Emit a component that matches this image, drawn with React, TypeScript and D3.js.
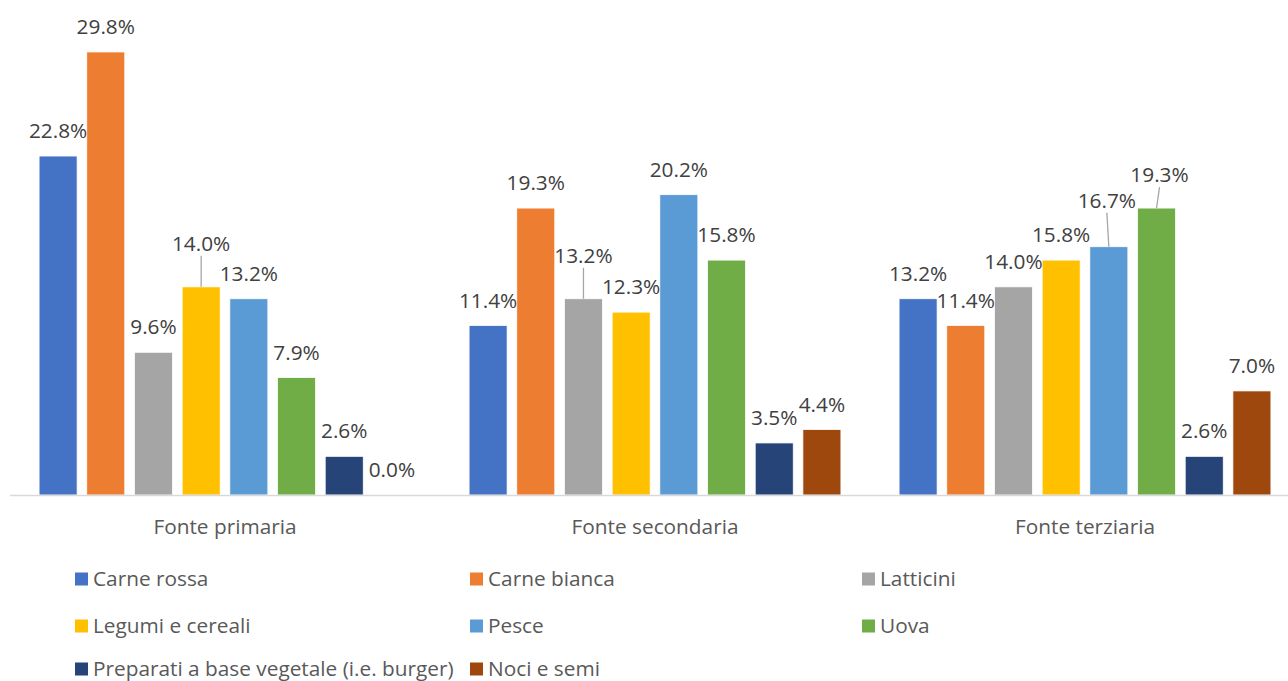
import React from "react";
import * as d3 from "d3";

const categories = ["Fonte primaria", "Fonte secondaria", "Fonte terziaria"];
const seriesNames = [
  "Carne rossa",
  "Carne bianca",
  "Latticini",
  "Legumi e cereali",
  "Pesce",
  "Uova",
  "Preparati a base vegetale (i.e. burger)",
  "Noci e semi",
];
const carneRossa = [22.8, 11.4, 13.2];
const carneBianca = [29.8, 19.3, 11.4];
const latticini = [9.6, 13.2, 14.0];
const legumiCereali = [14.0, 12.3, 15.8];
const pesce = [13.2, 20.2, 16.7];
const uova = [7.9, 15.8, 19.3];
const preparati = [2.6, 3.5, 2.6];
const nociSemi = [0.0, 4.4, 7.0];

const seriesValues = [carneRossa, carneBianca, latticini, legumiCereali, pesce, uova, preparati, nociSemi];
const colors = ["#4472C4", "#ED7D31", "#A5A5A5", "#FFC000", "#5B9BD5", "#70AD47", "#264478", "#9E480E"];

// labels lifted with leader lines: key "seriesIndex-categoryIndex" -> extra lift (px), x shift
const leaderLabels: Record<string, { lift: number; dx: number }> = {
  "3-0": { lift: 18, dx: 0 },
  "2-1": { lift: 18, dx: 0 },
  "4-2": { lift: 21, dx: -2 },
  "5-2": { lift: 8, dx: 3 },
};

const W = 1288;
const H = 681;

export default function App() {
  const x0 = d3.scaleBand<string>().domain(categories).range([10, 1300]).paddingInner(0).paddingOuter(0);
  const x1 = d3
    .scaleBand<string>()
    .domain(seriesNames)
    .range([0, x0.bandwidth()])
    .paddingInner(0.203)
    .paddingOuter(0.61);
  const y = d3.scaleLinear().domain([0, 30]).range([495, 49]);

  const font = "'Open Sans', 'Noto Sans', sans-serif";
  const fs = 20.8;

  const legendCols = [75, 470, 862];
  const legendRows = [579, 626, 669];

  return (
    <svg
      width={W}
      height={H}
      style={{ position: "absolute", left: 0, top: 0, background: "#fff" }}
      fontFamily={font}
    >
      <rect x={0} y={0} width={W} height={H} fill="#fff" />
      {seriesNames.map((s, si) =>
        categories.map((c, ci) => {
          const v = seriesValues[si][ci];
          const bx = (x0(c) as number) + (x1(s) as number);
          const bw = x1.bandwidth();
          const top = y(v);
          return (
            <rect
              key={`b-${si}-${ci}`}
              x={bx}
              y={top}
              width={bw}
              height={y(0) - top}
              fill={colors[si]}
              stroke="#fff"
              strokeWidth={0.75}
            />
          );
        })
      )}
      <line x1={10} x2={W} y1={495.5} y2={495.5} stroke="#d9d9d9" strokeWidth={1.3} />
      {seriesNames.map((s, si) =>
        categories.map((c, ci) => {
          const v = seriesValues[si][ci];
          const cx = (x0(c) as number) + (x1(s) as number) + x1.bandwidth() / 2;
          const top = y(v);
          const adj = leaderLabels[`${si}-${ci}`];
          const baseY = top - 18 - (adj ? adj.lift : 0);
          return (
            <g key={`l-${si}-${ci}`}>
              {adj && (
                <line
                  x1={cx + adj.dx}
                  y1={baseY + 5}
                  x2={cx}
                  y2={top}
                  stroke="#a6a6a6"
                  strokeWidth={1.3}
                />
              )}
              <text
                x={cx + (adj ? adj.dx : 0)}
                y={baseY}
                textAnchor="middle"
                fontSize={fs}
                fill="#404040"
              >
                {v.toFixed(1) + "%"}
              </text>
            </g>
          );
        })
      )}
      {categories.map((c) => (
        <text
          key={`c-${c}`}
          x={(x0(c) as number) + x0.bandwidth() / 2}
          y={534}
          textAnchor="middle"
          fontSize={fs}
          fill="#595959"
        >
          {c}
        </text>
      ))}
      {seriesNames.map((s, si) => {
        const col = si % 3;
        const row = Math.floor(si / 3);
        const lx = legendCols[col];
        const ly = legendRows[row];
        return (
          <g key={`lg-${si}`}>
            <rect x={lx} y={ly - 6.5} width={13} height={13} fill={colors[si]} />
            <text x={lx + 18} y={ly + 7} fontSize={fs} fill="#595959">
              {s}
            </text>
          </g>
        );
      })}
    </svg>
  );
}
